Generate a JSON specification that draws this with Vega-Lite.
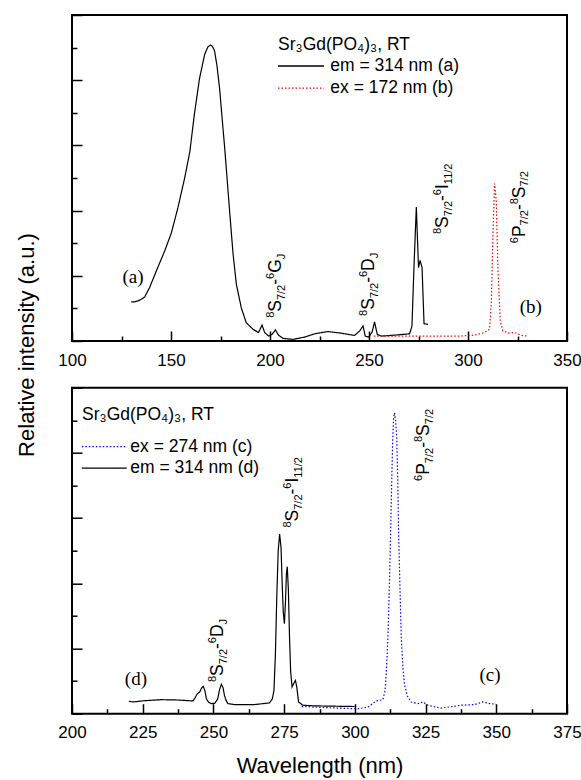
{
  "$schema": "https://vega.github.io/schema/vega-lite/v6.json",
  "padding": {"left": 14, "top": 13, "right": 0, "bottom": 0},
  "bounds": "flush",
  "spacing": 46.7,
  "resolve": {"scale": {"color": "independent", "strokeDash": "independent"}, "legend": {"color": "independent", "strokeDash": "independent"}},
  "config": {
    "view": {"stroke": "black", "strokeWidth": 2},
    "font": "Liberation Sans",
    "axis": {"grid": false, "domain": false, "tickColor": "black", "tickWidth": 1.5, "labelFont": "Liberation Sans", "labelFontSize": 17, "labelColor": "black", "titleFont": "Liberation Sans", "titleFontWeight": "normal", "titleColor": "black", "labelFlush": false, "labelOverlap": false},
    "legend": {"orient": "none", "symbolType": "M-2,0H2", "symbolStrokeWidth": 1.3, "labelFont": "Liberation Sans", "titleFont": "Liberation Sans", "labelFontSize": 17.5, "titleFontSize": 17.5, "titleFontWeight": "normal", "labelColor": "black", "titleColor": "black", "padding": 0, "labelLimit": 0, "titleLimit": 0}
  },
  "datasets": {
    "spectra": [
      {"panel": "top", "series": "em = 314 nm (a)", "wavelength": 129.9, "intensity": 1.2},
      {"panel": "top", "series": "em = 314 nm (a)", "wavelength": 131.5, "intensity": 1.2},
      {"panel": "top", "series": "em = 314 nm (a)", "wavelength": 133.3, "intensity": 1.23},
      {"panel": "top", "series": "em = 314 nm (a)", "wavelength": 135.0, "intensity": 1.28},
      {"panel": "top", "series": "em = 314 nm (a)", "wavelength": 136.7, "intensity": 1.35},
      {"panel": "top", "series": "em = 314 nm (a)", "wavelength": 139.2, "intensity": 1.64},
      {"panel": "top", "series": "em = 314 nm (a)", "wavelength": 142.6, "intensity": 2.15},
      {"panel": "top", "series": "em = 314 nm (a)", "wavelength": 146.8, "intensity": 2.76},
      {"panel": "top", "series": "em = 314 nm (a)", "wavelength": 150.2, "intensity": 3.32},
      {"panel": "top", "series": "em = 314 nm (a)", "wavelength": 153.5, "intensity": 4.09},
      {"panel": "top", "series": "em = 314 nm (a)", "wavelength": 156.9, "intensity": 5.0},
      {"panel": "top", "series": "em = 314 nm (a)", "wavelength": 159.5, "intensity": 5.8},
      {"panel": "top", "series": "em = 314 nm (a)", "wavelength": 161.9, "intensity": 7.0},
      {"panel": "top", "series": "em = 314 nm (a)", "wavelength": 164.4, "intensity": 8.05},
      {"panel": "top", "series": "em = 314 nm (a)", "wavelength": 167.0, "intensity": 8.79},
      {"panel": "top", "series": "em = 314 nm (a)", "wavelength": 168.6, "intensity": 9.02},
      {"panel": "top", "series": "em = 314 nm (a)", "wavelength": 170.0, "intensity": 9.08},
      {"panel": "top", "series": "em = 314 nm (a)", "wavelength": 171.0, "intensity": 9.03},
      {"panel": "top", "series": "em = 314 nm (a)", "wavelength": 172.0, "intensity": 8.9},
      {"panel": "top", "series": "em = 314 nm (a)", "wavelength": 173.2, "intensity": 8.45},
      {"panel": "top", "series": "em = 314 nm (a)", "wavelength": 174.5, "intensity": 7.77},
      {"panel": "top", "series": "em = 314 nm (a)", "wavelength": 177.1, "intensity": 5.93},
      {"panel": "top", "series": "em = 314 nm (a)", "wavelength": 179.6, "intensity": 3.99},
      {"panel": "top", "series": "em = 314 nm (a)", "wavelength": 181.3, "intensity": 2.7},
      {"panel": "top", "series": "em = 314 nm (a)", "wavelength": 183.0, "intensity": 1.74},
      {"panel": "top", "series": "em = 314 nm (a)", "wavelength": 185.5, "intensity": 1.02},
      {"panel": "top", "series": "em = 314 nm (a)", "wavelength": 188.0, "intensity": 0.56},
      {"panel": "top", "series": "em = 314 nm (a)", "wavelength": 191.4, "intensity": 0.36},
      {"panel": "top", "series": "em = 314 nm (a)", "wavelength": 194.2, "intensity": 0.26},
      {"panel": "top", "series": "em = 314 nm (a)", "wavelength": 196.0, "intensity": 0.49},
      {"panel": "top", "series": "em = 314 nm (a)", "wavelength": 197.3, "intensity": 0.26},
      {"panel": "top", "series": "em = 314 nm (a)", "wavelength": 199.3, "intensity": 0.15},
      {"panel": "top", "series": "em = 314 nm (a)", "wavelength": 201.0, "intensity": 0.2},
      {"panel": "top", "series": "em = 314 nm (a)", "wavelength": 202.7, "intensity": 0.34},
      {"panel": "top", "series": "em = 314 nm (a)", "wavelength": 204.3, "intensity": 0.18},
      {"panel": "top", "series": "em = 314 nm (a)", "wavelength": 206.6, "intensity": 0.08},
      {"panel": "top", "series": "em = 314 nm (a)", "wavelength": 211.6, "intensity": 0.05},
      {"panel": "top", "series": "em = 314 nm (a)", "wavelength": 217.5, "intensity": 0.12},
      {"panel": "top", "series": "em = 314 nm (a)", "wavelength": 222.5, "intensity": 0.22},
      {"panel": "top", "series": "em = 314 nm (a)", "wavelength": 229.3, "intensity": 0.29},
      {"panel": "top", "series": "em = 314 nm (a)", "wavelength": 236.0, "intensity": 0.24},
      {"panel": "top", "series": "em = 314 nm (a)", "wavelength": 242.7, "intensity": 0.17},
      {"panel": "top", "series": "em = 314 nm (a)", "wavelength": 245.3, "intensity": 0.31},
      {"panel": "top", "series": "em = 314 nm (a)", "wavelength": 247.0, "intensity": 0.46},
      {"panel": "top", "series": "em = 314 nm (a)", "wavelength": 248.1, "intensity": 0.15},
      {"panel": "top", "series": "em = 314 nm (a)", "wavelength": 249.8, "intensity": 0.12},
      {"panel": "top", "series": "em = 314 nm (a)", "wavelength": 251.5, "intensity": 0.26},
      {"panel": "top", "series": "em = 314 nm (a)", "wavelength": 252.8, "intensity": 0.59},
      {"panel": "top", "series": "em = 314 nm (a)", "wavelength": 254.2, "intensity": 0.2},
      {"panel": "top", "series": "em = 314 nm (a)", "wavelength": 256.2, "intensity": 0.15},
      {"panel": "top", "series": "em = 314 nm (a)", "wavelength": 262.9, "intensity": 0.18},
      {"panel": "top", "series": "em = 314 nm (a)", "wavelength": 270.5, "intensity": 0.22},
      {"panel": "top", "series": "em = 314 nm (a)", "wavelength": 271.7, "intensity": 0.46},
      {"panel": "top", "series": "em = 314 nm (a)", "wavelength": 272.7, "intensity": 2.25},
      {"panel": "top", "series": "em = 314 nm (a)", "wavelength": 273.9, "intensity": 4.11},
      {"panel": "top", "series": "em = 314 nm (a)", "wavelength": 275.0, "intensity": 2.25},
      {"panel": "top", "series": "em = 314 nm (a)", "wavelength": 275.8, "intensity": 2.47},
      {"panel": "top", "series": "em = 314 nm (a)", "wavelength": 276.8, "intensity": 2.25},
      {"panel": "top", "series": "em = 314 nm (a)", "wavelength": 277.8, "intensity": 0.53},
      {"panel": "top", "series": "em = 314 nm (a)", "wavelength": 279.8, "intensity": 0.51},
      {"panel": "top", "series": "ex = 172 nm (b)", "wavelength": 252.4, "intensity": 0.15},
      {"panel": "top", "series": "ex = 172 nm (b)", "wavelength": 273.5, "intensity": 0.15},
      {"panel": "top", "series": "ex = 172 nm (b)", "wavelength": 295.7, "intensity": 0.15},
      {"panel": "top", "series": "ex = 172 nm (b)", "wavelength": 303.3, "intensity": 0.18},
      {"panel": "top", "series": "ex = 172 nm (b)", "wavelength": 308.4, "intensity": 0.26},
      {"panel": "top", "series": "ex = 172 nm (b)", "wavelength": 310.9, "intensity": 0.36},
      {"panel": "top", "series": "ex = 172 nm (b)", "wavelength": 311.8, "intensity": 1.23},
      {"panel": "top", "series": "ex = 172 nm (b)", "wavelength": 312.6, "intensity": 3.27},
      {"panel": "top", "series": "ex = 172 nm (b)", "wavelength": 313.4, "intensity": 4.83},
      {"panel": "top", "series": "ex = 172 nm (b)", "wavelength": 314.3, "intensity": 4.29},
      {"panel": "top", "series": "ex = 172 nm (b)", "wavelength": 315.1, "intensity": 2.25},
      {"panel": "top", "series": "ex = 172 nm (b)", "wavelength": 316.3, "intensity": 0.61},
      {"panel": "top", "series": "ex = 172 nm (b)", "wavelength": 317.6, "intensity": 0.31},
      {"panel": "top", "series": "ex = 172 nm (b)", "wavelength": 321.0, "intensity": 0.24},
      {"panel": "top", "series": "ex = 172 nm (b)", "wavelength": 323.5, "intensity": 0.26},
      {"panel": "top", "series": "ex = 172 nm (b)", "wavelength": 325.2, "intensity": 0.22},
      {"panel": "top", "series": "ex = 172 nm (b)", "wavelength": 326.9, "intensity": 0.17},
      {"panel": "top", "series": "ex = 172 nm (b)", "wavelength": 330.3, "intensity": 0.15},
      {"panel": "bottom", "series": "em = 314 nm (d)", "wavelength": 220.1, "intensity": 0.38},
      {"panel": "bottom", "series": "em = 314 nm (d)", "wavelength": 221.6, "intensity": 0.36},
      {"panel": "bottom", "series": "em = 314 nm (d)", "wavelength": 225.7, "intensity": 0.4},
      {"panel": "bottom", "series": "em = 314 nm (d)", "wavelength": 231.6, "intensity": 0.43},
      {"panel": "bottom", "series": "em = 314 nm (d)", "wavelength": 237.5, "intensity": 0.42},
      {"panel": "bottom", "series": "em = 314 nm (d)", "wavelength": 242.8, "intensity": 0.39},
      {"panel": "bottom", "series": "em = 314 nm (d)", "wavelength": 243.6, "intensity": 0.5},
      {"panel": "bottom", "series": "em = 314 nm (d)", "wavelength": 244.3, "intensity": 0.61},
      {"panel": "bottom", "series": "em = 314 nm (d)", "wavelength": 245.1, "intensity": 0.66},
      {"panel": "bottom", "series": "em = 314 nm (d)", "wavelength": 245.8, "intensity": 0.78},
      {"panel": "bottom", "series": "em = 314 nm (d)", "wavelength": 246.4, "intensity": 0.84},
      {"panel": "bottom", "series": "em = 314 nm (d)", "wavelength": 247.0, "intensity": 0.7},
      {"panel": "bottom", "series": "em = 314 nm (d)", "wavelength": 247.5, "intensity": 0.46},
      {"panel": "bottom", "series": "em = 314 nm (d)", "wavelength": 248.3, "intensity": 0.35},
      {"panel": "bottom", "series": "em = 314 nm (d)", "wavelength": 249.2, "intensity": 0.31},
      {"panel": "bottom", "series": "em = 314 nm (d)", "wavelength": 250.5, "intensity": 0.32},
      {"panel": "bottom", "series": "em = 314 nm (d)", "wavelength": 251.5, "intensity": 0.45},
      {"panel": "bottom", "series": "em = 314 nm (d)", "wavelength": 252.2, "intensity": 0.75},
      {"panel": "bottom", "series": "em = 314 nm (d)", "wavelength": 252.8, "intensity": 0.9},
      {"panel": "bottom", "series": "em = 314 nm (d)", "wavelength": 253.4, "intensity": 0.8},
      {"panel": "bottom", "series": "em = 314 nm (d)", "wavelength": 253.9, "intensity": 0.56},
      {"panel": "bottom", "series": "em = 314 nm (d)", "wavelength": 254.5, "intensity": 0.4},
      {"panel": "bottom", "series": "em = 314 nm (d)", "wavelength": 255.1, "intensity": 0.31},
      {"panel": "bottom", "series": "em = 314 nm (d)", "wavelength": 257.5, "intensity": 0.28},
      {"panel": "bottom", "series": "em = 314 nm (d)", "wavelength": 264.5, "intensity": 0.28},
      {"panel": "bottom", "series": "em = 314 nm (d)", "wavelength": 269.8, "intensity": 0.33},
      {"panel": "bottom", "series": "em = 314 nm (d)", "wavelength": 270.8, "intensity": 0.45},
      {"panel": "bottom", "series": "em = 314 nm (d)", "wavelength": 271.4, "intensity": 0.71},
      {"panel": "bottom", "series": "em = 314 nm (d)", "wavelength": 271.9, "intensity": 1.8},
      {"panel": "bottom", "series": "em = 314 nm (d)", "wavelength": 272.4, "intensity": 3.6},
      {"panel": "bottom", "series": "em = 314 nm (d)", "wavelength": 272.9, "intensity": 5.0},
      {"panel": "bottom", "series": "em = 314 nm (d)", "wavelength": 273.4, "intensity": 5.51},
      {"panel": "bottom", "series": "em = 314 nm (d)", "wavelength": 273.9, "intensity": 5.1},
      {"panel": "bottom", "series": "em = 314 nm (d)", "wavelength": 274.3, "intensity": 4.0},
      {"panel": "bottom", "series": "em = 314 nm (d)", "wavelength": 274.7, "intensity": 3.1},
      {"panel": "bottom", "series": "em = 314 nm (d)", "wavelength": 275.1, "intensity": 2.76},
      {"panel": "bottom", "series": "em = 314 nm (d)", "wavelength": 275.5, "intensity": 3.5},
      {"panel": "bottom", "series": "em = 314 nm (d)", "wavelength": 275.8, "intensity": 4.3},
      {"panel": "bottom", "series": "em = 314 nm (d)", "wavelength": 276.1, "intensity": 4.51},
      {"panel": "bottom", "series": "em = 314 nm (d)", "wavelength": 276.5, "intensity": 3.8},
      {"panel": "bottom", "series": "em = 314 nm (d)", "wavelength": 276.9, "intensity": 2.35},
      {"panel": "bottom", "series": "em = 314 nm (d)", "wavelength": 277.3, "intensity": 1.3},
      {"panel": "bottom", "series": "em = 314 nm (d)", "wavelength": 277.8, "intensity": 0.82},
      {"panel": "bottom", "series": "em = 314 nm (d)", "wavelength": 278.5, "intensity": 0.95},
      {"panel": "bottom", "series": "em = 314 nm (d)", "wavelength": 279.0, "intensity": 1.02},
      {"panel": "bottom", "series": "em = 314 nm (d)", "wavelength": 279.5, "intensity": 0.8},
      {"panel": "bottom", "series": "em = 314 nm (d)", "wavelength": 280.1, "intensity": 0.36},
      {"panel": "bottom", "series": "em = 314 nm (d)", "wavelength": 281.6, "intensity": 0.26},
      {"panel": "bottom", "series": "em = 314 nm (d)", "wavelength": 285.7, "intensity": 0.24},
      {"panel": "bottom", "series": "em = 314 nm (d)", "wavelength": 299.9, "intensity": 0.22},
      {"panel": "bottom", "series": "ex = 274 nm (c)", "wavelength": 281.2, "intensity": 0.22},
      {"panel": "bottom", "series": "ex = 274 nm (c)", "wavelength": 291.6, "intensity": 0.18},
      {"panel": "bottom", "series": "ex = 274 nm (c)", "wavelength": 301.0, "intensity": 0.15},
      {"panel": "bottom", "series": "ex = 274 nm (c)", "wavelength": 304.6, "intensity": 0.2},
      {"panel": "bottom", "series": "ex = 274 nm (c)", "wavelength": 307.5, "intensity": 0.39},
      {"panel": "bottom", "series": "ex = 274 nm (c)", "wavelength": 309.9, "intensity": 0.43},
      {"panel": "bottom", "series": "ex = 274 nm (c)", "wavelength": 310.7, "intensity": 0.71},
      {"panel": "bottom", "series": "ex = 274 nm (c)", "wavelength": 311.2, "intensity": 1.4},
      {"panel": "bottom", "series": "ex = 274 nm (c)", "wavelength": 311.7, "intensity": 2.35},
      {"panel": "bottom", "series": "ex = 274 nm (c)", "wavelength": 312.2, "intensity": 3.9},
      {"panel": "bottom", "series": "ex = 274 nm (c)", "wavelength": 312.6, "intensity": 5.41},
      {"panel": "bottom", "series": "ex = 274 nm (c)", "wavelength": 313.0, "intensity": 7.0},
      {"panel": "bottom", "series": "ex = 274 nm (c)", "wavelength": 313.4, "intensity": 8.47},
      {"panel": "bottom", "series": "ex = 274 nm (c)", "wavelength": 313.7, "intensity": 9.05},
      {"panel": "bottom", "series": "ex = 274 nm (c)", "wavelength": 314.0, "intensity": 9.23},
      {"panel": "bottom", "series": "ex = 274 nm (c)", "wavelength": 314.4, "intensity": 9.0},
      {"panel": "bottom", "series": "ex = 274 nm (c)", "wavelength": 314.8, "intensity": 8.47},
      {"panel": "bottom", "series": "ex = 274 nm (c)", "wavelength": 315.2, "intensity": 7.0},
      {"panel": "bottom", "series": "ex = 274 nm (c)", "wavelength": 315.5, "intensity": 5.41},
      {"panel": "bottom", "series": "ex = 274 nm (c)", "wavelength": 316.0, "intensity": 3.7},
      {"panel": "bottom", "series": "ex = 274 nm (c)", "wavelength": 316.4, "intensity": 2.35},
      {"panel": "bottom", "series": "ex = 274 nm (c)", "wavelength": 317.0, "intensity": 1.4},
      {"panel": "bottom", "series": "ex = 274 nm (c)", "wavelength": 317.5, "intensity": 0.92},
      {"panel": "bottom", "series": "ex = 274 nm (c)", "wavelength": 318.5, "intensity": 0.55},
      {"panel": "bottom", "series": "ex = 274 nm (c)", "wavelength": 319.9, "intensity": 0.36},
      {"panel": "bottom", "series": "ex = 274 nm (c)", "wavelength": 322.3, "intensity": 0.31},
      {"panel": "bottom", "series": "ex = 274 nm (c)", "wavelength": 324.0, "intensity": 0.36},
      {"panel": "bottom", "series": "ex = 274 nm (c)", "wavelength": 325.8, "intensity": 0.26},
      {"panel": "bottom", "series": "ex = 274 nm (c)", "wavelength": 330.5, "intensity": 0.17},
      {"panel": "bottom", "series": "ex = 274 nm (c)", "wavelength": 337.6, "intensity": 0.26},
      {"panel": "bottom", "series": "ex = 274 nm (c)", "wavelength": 342.3, "intensity": 0.28},
      {"panel": "bottom", "series": "ex = 274 nm (c)", "wavelength": 345.2, "intensity": 0.36},
      {"panel": "bottom", "series": "ex = 274 nm (c)", "wavelength": 347.6, "intensity": 0.31},
      {"panel": "bottom", "series": "ex = 274 nm (c)", "wavelength": 349.9, "intensity": 0.29}
    ],
    "labels": [
      {"panel": "top", "wavelength": 205.7, "intensity": 0.71, "sup1": "8", "main1": "S", "sub1": "7/2", "sup2": "6", "main2": "G", "sub2": "J"},
      {"panel": "top", "wavelength": 252.7, "intensity": 0.77, "sup1": "8", "main1": "S", "sub1": "7/2", "sup2": "6", "main2": "D", "sub2": "J"},
      {"panel": "top", "wavelength": 290.0, "intensity": 3.28, "sup1": "8", "main1": "S", "sub1": "7/2", "sup2": "6", "main2": "I", "sub2": "11/2"},
      {"panel": "top", "wavelength": 328.6, "intensity": 3.0, "sup1": "6", "main1": "P", "sub1": "7/2", "sup2": "8", "main2": "S", "sub2": "7/2"},
      {"panel": "bottom", "wavelength": 253.5, "intensity": 0.97, "sup1": "8", "main1": "S", "sub1": "7/2", "sup2": "6", "main2": "D", "sub2": "J"},
      {"panel": "bottom", "wavelength": 280.0, "intensity": 5.71, "sup1": "8", "main1": "S", "sub1": "7/2", "sup2": "6", "main2": "I", "sub2": "11/2"},
      {"panel": "bottom", "wavelength": 326.3, "intensity": 7.14, "sup1": "6", "main1": "P", "sub1": "7/2", "sup2": "8", "main2": "S", "sub2": "7/2"}
    ],
    "tags": [
      {"panel": "top", "wavelength": 130.8, "intensity": 1.96, "tag": "(a)"},
      {"panel": "top", "wavelength": 331.7, "intensity": 1.04, "tag": "(b)"},
      {"panel": "bottom", "wavelength": 347.8, "intensity": 1.2, "tag": "(c)"},
      {"panel": "bottom", "wavelength": 222.6, "intensity": 1.07, "tag": "(d)"}
    ]
  },
  "vconcat": [
    {
      "width": 495,
      "height": 326,
      "encoding": {
        "x": {"field": "wavelength", "type": "quantitative", "scale": {"domain": [100, 350], "nice": false, "zero": false},
          "axis": {"title": null, "values": [100, 125, 150, 175, 200, 225, 250, 275, 300, 325, 350], "labelExpr": "datum.value % 50 === 0 ? datum.label : ''", "tickSize": {"condition": {"test": "datum.value % 50 === 0", "value": -10}, "value": -5}, "labelPadding": 21}},
        "y": {"field": "intensity", "type": "quantitative", "scale": {"domain": [0, 10], "nice": false, "zero": false},
          "axis": {"title": "Relative intensity (a.u.)", "titleFontSize": 22, "titleAngle": 270, "titleX": -46, "titleY": 329.5, "titleAlign": "center", "titleBaseline": "middle", "labels": false, "values": [0, 1, 2, 3, 4, 5, 6, 7, 8, 9, 10], "tickSize": {"condition": {"test": "datum.value % 2 === 0", "value": -10}, "value": -5}}}
      },
      "layer": [
        {
          "data": {"name": "spectra"},
          "transform": [{"filter": "datum.panel === 'top'"}],
          "mark": {"type": "line", "strokeWidth": 1.2},
          "encoding": {
            "color": {"field": "series", "type": "nominal", "scale": {"domain": ["em = 314 nm (a)", "ex = 172 nm (b)"], "range": ["#000000", "#ff0000"]},
              "legend": {"title": "Sr₃Gd(PO₄)₃, RT", "legendX": 206, "legendY": 21, "symbolSize": 529, "symbolOffset": 10.5, "labelOffset": 16.8, "titlePadding": 0, "rowPadding": 1.2}},
            "strokeDash": {"field": "series", "type": "nominal", "scale": {"domain": ["em = 314 nm (a)", "ex = 172 nm (b)"], "range": [[1, 0], [1.5, 2]]},
              "legend": {"title": "Sr₃Gd(PO₄)₃, RT", "legendX": 206, "legendY": 21, "symbolSize": 529, "symbolOffset": 10.5, "labelOffset": 16.8, "titlePadding": 0, "rowPadding": 1.2}}
          }
        },
        {"data": {"name": "tags"}, "transform": [{"filter": "datum.panel === 'top'"}], "mark": {"type": "text", "font": "Liberation Serif", "fontSize": 19, "align": "center", "baseline": "middle", "color": "black"}, "encoding": {"text": {"field": "tag"}}},
        {"data": {"name": "labels"}, "transform": [{"filter": "datum.panel === 'top'"}], "mark": {"type": "text", "angle": 270, "align": "left", "baseline": "alphabetic", "fontSize": 11, "dx": 0, "dy": -7, "color": "black"}, "encoding": {"text": {"field": "sup1"}}},
        {"data": {"name": "labels"}, "transform": [{"filter": "datum.panel === 'top'"}], "mark": {"type": "text", "angle": 270, "align": "left", "baseline": "alphabetic", "fontSize": 17.5, "dx": 6.1, "dy": 0, "color": "black"}, "encoding": {"text": {"field": "main1"}}},
        {"data": {"name": "labels"}, "transform": [{"filter": "datum.panel === 'top'"}], "mark": {"type": "text", "angle": 270, "align": "left", "baseline": "alphabetic", "fontSize": 11, "dx": 17.8, "dy": 3.5, "color": "black"}, "encoding": {"text": {"field": "sub1"}}},
        {"data": {"name": "labels"}, "transform": [{"filter": "datum.panel === 'top'"}], "mark": {"type": "text", "angle": 270, "align": "left", "baseline": "alphabetic", "fontSize": 17.5, "dx": 33.1, "dy": 0, "color": "black"}, "encoding": {"text": {"value": "-"}}},
        {"data": {"name": "labels"}, "transform": [{"filter": "datum.panel === 'top'"}], "mark": {"type": "text", "angle": 270, "align": "left", "baseline": "alphabetic", "fontSize": 11, "dx": 38.9, "dy": -7, "color": "black"}, "encoding": {"text": {"field": "sup2"}}},
        {"data": {"name": "labels"}, "transform": [{"filter": "datum.panel === 'top'"}], "mark": {"type": "text", "angle": 270, "align": "left", "baseline": "alphabetic", "fontSize": 17.5, "dx": 45, "dy": 0, "color": "black"}, "encoding": {"text": {"field": "main2"}}},
        {"data": {"name": "labels"}, "transform": [{"filter": "datum.panel === 'top' && datum.main2 === 'G'"}], "mark": {"type": "text", "angle": 270, "align": "left", "baseline": "alphabetic", "fontSize": 11, "dx": 58.6, "dy": 3.5, "color": "black"}, "encoding": {"text": {"field": "sub2"}}},
        {"data": {"name": "labels"}, "transform": [{"filter": "datum.panel === 'top' && datum.main2 === 'D'"}], "mark": {"type": "text", "angle": 270, "align": "left", "baseline": "alphabetic", "fontSize": 11, "dx": 57.6, "dy": 3.5, "color": "black"}, "encoding": {"text": {"field": "sub2"}}},
        {"data": {"name": "labels"}, "transform": [{"filter": "datum.panel === 'top' && datum.main2 === 'I'"}], "mark": {"type": "text", "angle": 270, "align": "left", "baseline": "alphabetic", "fontSize": 11, "dx": 49.9, "dy": 3.5, "color": "black"}, "encoding": {"text": {"field": "sub2"}}},
        {"data": {"name": "labels"}, "transform": [{"filter": "datum.panel === 'top' && datum.main2 === 'S'"}], "mark": {"type": "text", "angle": 270, "align": "left", "baseline": "alphabetic", "fontSize": 11, "dx": 56.7, "dy": 3.5, "color": "black"}, "encoding": {"text": {"field": "sub2"}}}
      ]
    },
    {
      "width": 495,
      "height": 326,
      "encoding": {
        "x": {"field": "wavelength", "type": "quantitative", "scale": {"domain": [200, 375], "nice": false, "zero": false},
          "axis": {"title": "Wavelength (nm)", "titleFontSize": 22, "titlePadding": 10, "values": [200, 212.5, 225, 237.5, 250, 262.5, 275, 287.5, 300, 312.5, 325, 337.5, 350, 362.5, 375], "labelExpr": "datum.value % 25 === 0 ? datum.label : ''", "tickSize": {"condition": {"test": "datum.value % 25 === 0", "value": -10}, "value": -5}, "labelPadding": 21}},
        "y": {"field": "intensity", "type": "quantitative", "scale": {"domain": [0, 10], "nice": false, "zero": false},
          "axis": {"title": null, "labels": false, "values": [0, 1, 2, 3, 4, 5, 6, 7, 8, 9, 10], "tickSize": {"condition": {"test": "datum.value % 2 === 0", "value": -10}, "value": -5}}}
      },
      "layer": [
        {
          "data": {"name": "spectra"},
          "transform": [{"filter": "datum.panel === 'bottom'"}],
          "mark": {"type": "line", "strokeWidth": 1.2},
          "encoding": {
            "color": {"field": "series", "type": "nominal", "scale": {"domain": ["ex = 274 nm (c)", "em = 314 nm (d)"], "range": ["#0000ff", "#000000"]},
              "legend": {"title": "Sr₃Gd(PO₄)₃, RT", "legendX": 10, "legendY": 18.5, "symbolSize": 506, "symbolOffset": 10.3, "labelOffset": 14, "titlePadding": 11, "rowPadding": 0.5}},
            "strokeDash": {"field": "series", "type": "nominal", "scale": {"domain": ["ex = 274 nm (c)", "em = 314 nm (d)"], "range": [[1.5, 2], [1, 0]]},
              "legend": {"title": "Sr₃Gd(PO₄)₃, RT", "legendX": 10, "legendY": 18.5, "symbolSize": 506, "symbolOffset": 10.3, "labelOffset": 14, "titlePadding": 11, "rowPadding": 0.5}}
          }
        },
        {"data": {"name": "tags"}, "transform": [{"filter": "datum.panel === 'bottom'"}], "mark": {"type": "text", "font": "Liberation Serif", "fontSize": 19, "align": "center", "baseline": "middle", "color": "black"}, "encoding": {"text": {"field": "tag"}}},
        {"data": {"name": "labels"}, "transform": [{"filter": "datum.panel === 'bottom'"}], "mark": {"type": "text", "angle": 270, "align": "left", "baseline": "alphabetic", "fontSize": 11, "dx": 0, "dy": -7, "color": "black"}, "encoding": {"text": {"field": "sup1"}}},
        {"data": {"name": "labels"}, "transform": [{"filter": "datum.panel === 'bottom'"}], "mark": {"type": "text", "angle": 270, "align": "left", "baseline": "alphabetic", "fontSize": 17.5, "dx": 6.1, "dy": 0, "color": "black"}, "encoding": {"text": {"field": "main1"}}},
        {"data": {"name": "labels"}, "transform": [{"filter": "datum.panel === 'bottom'"}], "mark": {"type": "text", "angle": 270, "align": "left", "baseline": "alphabetic", "fontSize": 11, "dx": 17.8, "dy": 3.5, "color": "black"}, "encoding": {"text": {"field": "sub1"}}},
        {"data": {"name": "labels"}, "transform": [{"filter": "datum.panel === 'bottom'"}], "mark": {"type": "text", "angle": 270, "align": "left", "baseline": "alphabetic", "fontSize": 17.5, "dx": 33.1, "dy": 0, "color": "black"}, "encoding": {"text": {"value": "-"}}},
        {"data": {"name": "labels"}, "transform": [{"filter": "datum.panel === 'bottom'"}], "mark": {"type": "text", "angle": 270, "align": "left", "baseline": "alphabetic", "fontSize": 11, "dx": 38.9, "dy": -7, "color": "black"}, "encoding": {"text": {"field": "sup2"}}},
        {"data": {"name": "labels"}, "transform": [{"filter": "datum.panel === 'bottom'"}], "mark": {"type": "text", "angle": 270, "align": "left", "baseline": "alphabetic", "fontSize": 17.5, "dx": 45, "dy": 0, "color": "black"}, "encoding": {"text": {"field": "main2"}}},
        {"data": {"name": "labels"}, "transform": [{"filter": "datum.panel === 'bottom' && datum.main2 === 'D'"}], "mark": {"type": "text", "angle": 270, "align": "left", "baseline": "alphabetic", "fontSize": 11, "dx": 57.6, "dy": 3.5, "color": "black"}, "encoding": {"text": {"field": "sub2"}}},
        {"data": {"name": "labels"}, "transform": [{"filter": "datum.panel === 'bottom' && datum.main2 === 'I'"}], "mark": {"type": "text", "angle": 270, "align": "left", "baseline": "alphabetic", "fontSize": 11, "dx": 49.9, "dy": 3.5, "color": "black"}, "encoding": {"text": {"field": "sub2"}}},
        {"data": {"name": "labels"}, "transform": [{"filter": "datum.panel === 'bottom' && datum.main2 === 'S'"}], "mark": {"type": "text", "angle": 270, "align": "left", "baseline": "alphabetic", "fontSize": 11, "dx": 56.7, "dy": 3.5, "color": "black"}, "encoding": {"text": {"field": "sub2"}}}
      ]
    }
  ]
}
